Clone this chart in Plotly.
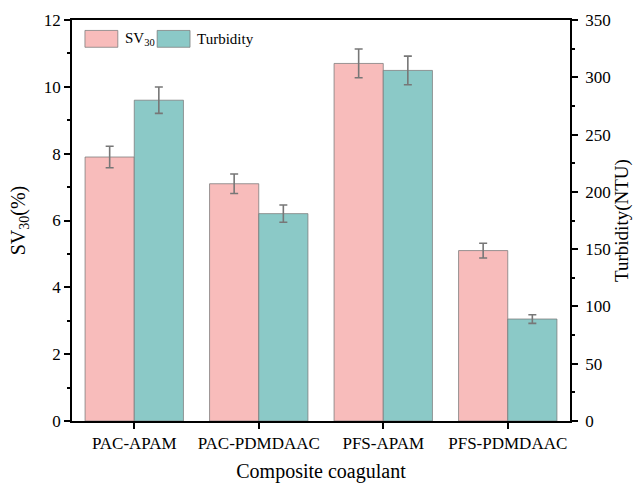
import plotly.graph_objects as go

# Composite coagulant comparison: settling volume (SV30) and turbidity
categories = ["PAC-APAM", "PAC-PDMDAAC", "PFS-APAM", "PFS-PDMDAAC"]
sv30 = [7.9, 7.1, 10.7, 5.1]
sv30_err = [0.32, 0.29, 0.43, 0.22]
turbidity = [280, 181, 306, 89]
turbidity_err = [11.5, 7.5, 12.5, 3.8]

PINK = "#F8BCBB"
TEAL = "#8BC9C7"
FONT = "Liberation Serif, Times New Roman, serif"

fig = go.Figure()
fig.add_trace(go.Bar(
    x=categories, y=sv30, name="SV<sub>30</sub>", yaxis="y", offsetgroup="sv",
    marker=dict(color=PINK, line=dict(color="rgba(120,120,120,0.75)", width=1)),
    error_y=dict(type="data", array=sv30_err, color="#777777", thickness=1.6, width=4),
    showlegend=False,
))
fig.add_trace(go.Bar(
    x=categories, y=turbidity, name="Turbidity", yaxis="y2", offsetgroup="tu",
    marker=dict(color=TEAL, line=dict(color="rgba(120,120,120,0.75)", width=1)),
    error_y=dict(type="data", array=turbidity_err, color="#777777", thickness=1.6, width=4),
    showlegend=False,
))

axis_common = dict(
    showline=True, linecolor="black", linewidth=1.5,
    ticks="outside", ticklen=6, tickwidth=1.5, tickcolor="black",
    showgrid=False, zeroline=False, automargin=False,
    tickfont=dict(family=FONT, size=17, color="black"),
)

fig.update_layout(
    width=633, height=484,
    margin=dict(l=72, r=63, t=20, b=63),
    paper_bgcolor="white", plot_bgcolor="white",
    barmode="group", bargap=0.21, bargroupgap=0,
    font=dict(family=FONT, size=16, color="black"),
    xaxis=dict(
        **axis_common, mirror=True,
        title=dict(text="Composite coagulant", font=dict(family=FONT, size=20), standoff=12),
    ),
    yaxis=dict(
        **axis_common, range=[0, 12], dtick=2,
        minor=dict(dtick=1, ticks="outside", ticklen=3, tickwidth=1.5, tickcolor="black"),
        title=dict(text="SV<sub>30</sub>(%)", font=dict(family=FONT, size=20), standoff=13),
    ),
    yaxis2=dict(
        **axis_common, range=[0, 350], dtick=50, overlaying="y", side="right",
        ticklabelstandoff=4,
        minor=dict(dtick=25, ticks="outside", ticklen=3, tickwidth=1.5, tickcolor="black"),
        title=dict(text="Turbidity(NTU)", font=dict(family=FONT, size=19), standoff=9),
    ),
)

# Legend keys drawn as wide swatches inside the plot area
legend_items = [("SV<sub>30</sub>", PINK, 0.026), ("Turbidity", TEAL, 0.171)]
for label, color, x0 in legend_items:
    fig.add_shape(type="rect", xref="paper", yref="paper",
                  x0=x0, x1=x0 + 0.066, y0=0.932, y1=0.974,
                  fillcolor=color, line=dict(color="rgba(120,120,120,0.75)", width=1))
    fig.add_annotation(xref="paper", yref="paper", x=x0 + 0.076, y=0.953,
                       text=label, showarrow=False, xanchor="left", yanchor="middle",
                       font=dict(family=FONT, size=15, color="black"))

fig.write_html("out.html")
